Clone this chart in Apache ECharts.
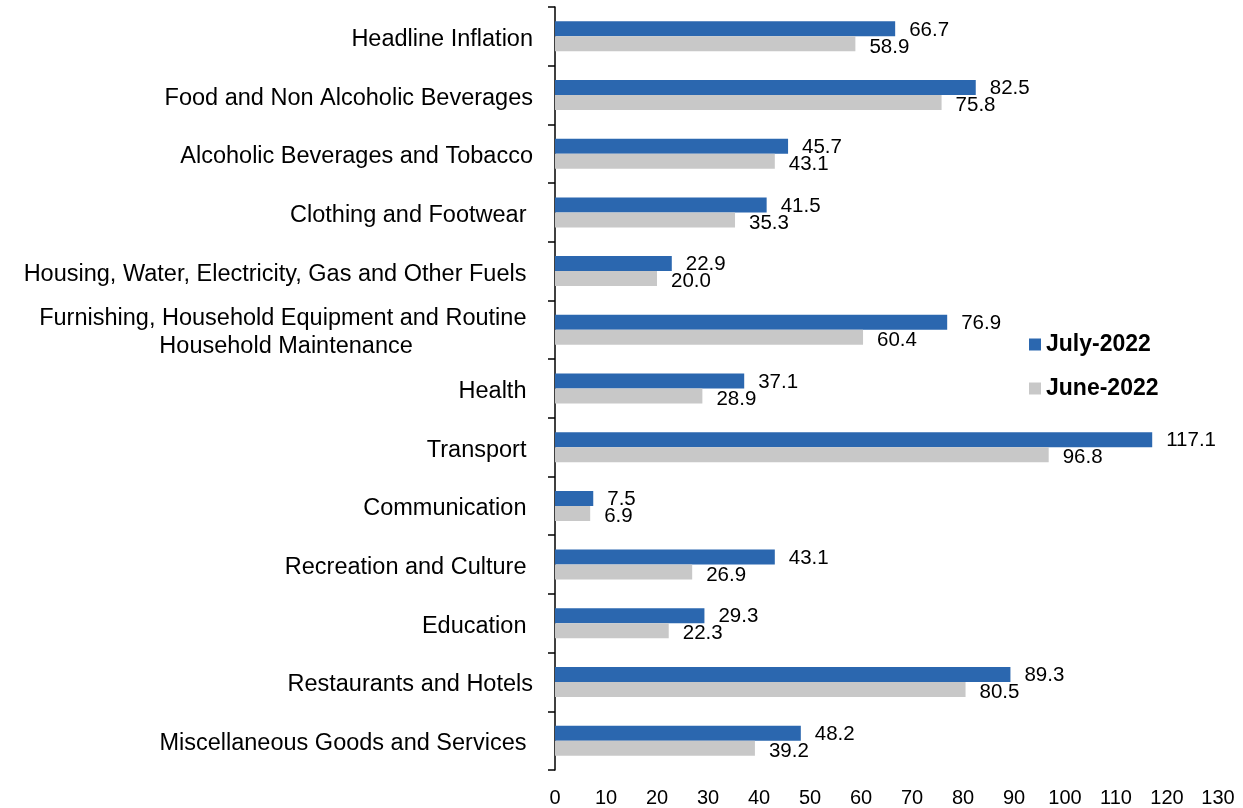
<!DOCTYPE html>
<html>
<head>
<meta charset="utf-8">
<script src="https://cdn.jsdelivr.net/npm/echarts@6/dist/echarts.min.js"></script>
<style>
  html, body { margin: 0; padding: 0; background: #fff; }
  #chart { width: 1243px; height: 808px; }
</style>
</head>
<body>
<div id="chart"></div>
<script>
const categories = [
  'Headline Inflation',
  'Food and Non Alcoholic Beverages',
  'Alcoholic Beverages and Tobacco',
  'Clothing and Footwear ',
  'Housing, Water, Electricity, Gas and Other Fuels ',
  'Furnishing, Household Equipment and Routine \nHousehold Maintenance',
  'Health ',
  'Transport ',
  'Communication ',
  'Recreation and Culture ',
  'Education ',
  'Restaurants and Hotels',
  'Miscellaneous Goods and Services '
];
const julyValues = [66.7, 82.5, 45.7, 41.5, 22.9, 76.9, 37.1, 117.1, 7.5, 43.1, 29.3, 89.3, 48.2];
const juneValues = [58.9, 75.8, 43.1, 35.3, 20.0, 60.4, 28.9, 96.8, 6.9, 26.9, 22.3, 80.5, 39.2];
const seriesNames = ['July-2022', 'June-2022'];
const xMin = 0, xMax = 130, xStep = 10;

const FONT = '"Liberation Sans", Arial, sans-serif';
const chart = echarts.init(document.getElementById('chart'));
function makeLabel(dy) {
  return {
    show: true,
    position: 'right',
    distance: 14,
    offset: [0, dy],
    color: '#000',
    fontFamily: FONT,
    fontSize: 20.5,
    formatter: p => p.value.toFixed(1)
  };
}
chart.setOption({
  backgroundColor: '#fff',
  animation: false,
  grid: { left: 555, right: 25, top: 7, bottom: 38, containLabel: false, outerBoundsMode: 'none' },
  legend: {
    orient: 'vertical',
    left: 1029,
    top: 333,
    itemWidth: 12,
    itemHeight: 12,
    itemGap: 21,
    padding: 0,
    icon: 'rect',
    textStyle: { color: '#000', fontFamily: FONT, fontSize: 23, fontWeight: 'bold', padding: [2, 0, 0, 0] },
    data: seriesNames
  },
  xAxis: {
    type: 'value',
    min: xMin,
    max: xMax,
    interval: xStep,
    axisLine: { show: false },
    axisTick: { show: false },
    splitLine: { show: false },
    axisLabel: { color: '#000', fontFamily: FONT, fontSize: 20, margin: 18 }
  },
  yAxis: {
    type: 'category',
    inverse: true,
    data: categories,
    axisLine: { show: true, lineStyle: { color: '#000', width: 1.5 } },
    axisTick: { show: true, length: 7, lineStyle: { color: '#000', width: 1.5 } },
    axisLabel: {
      color: '#000',
      fontFamily: FONT,
      fontSize: 23.5,
      margin: 22,
      lineHeight: 28,
      padding: [6, 0, 0, 0],
      formatter: v => v.indexOf('\n') >= 0
        ? v.split('\n').map(s => '{c|' + s + '}').join('\n')
        : v,
      rich: {
        c: { align: 'center', fontFamily: FONT, fontSize: 23.5, color: '#000', lineHeight: 28 }
      }
    }
  },
  series: [
    {
      name: seriesNames[0],
      type: 'bar',
      data: julyValues,
      barWidth: 15,
      barGap: '0%',
      itemStyle: { color: '#2B67AF' },
      label: makeLabel(1)
    },
    {
      name: seriesNames[1],
      type: 'bar',
      data: juneValues,
      barWidth: 15,
      barGap: '0%',
      itemStyle: { color: '#C8C8C8' },
      label: makeLabel(3)
    }
  ]
});
</script>
</body>
</html>
